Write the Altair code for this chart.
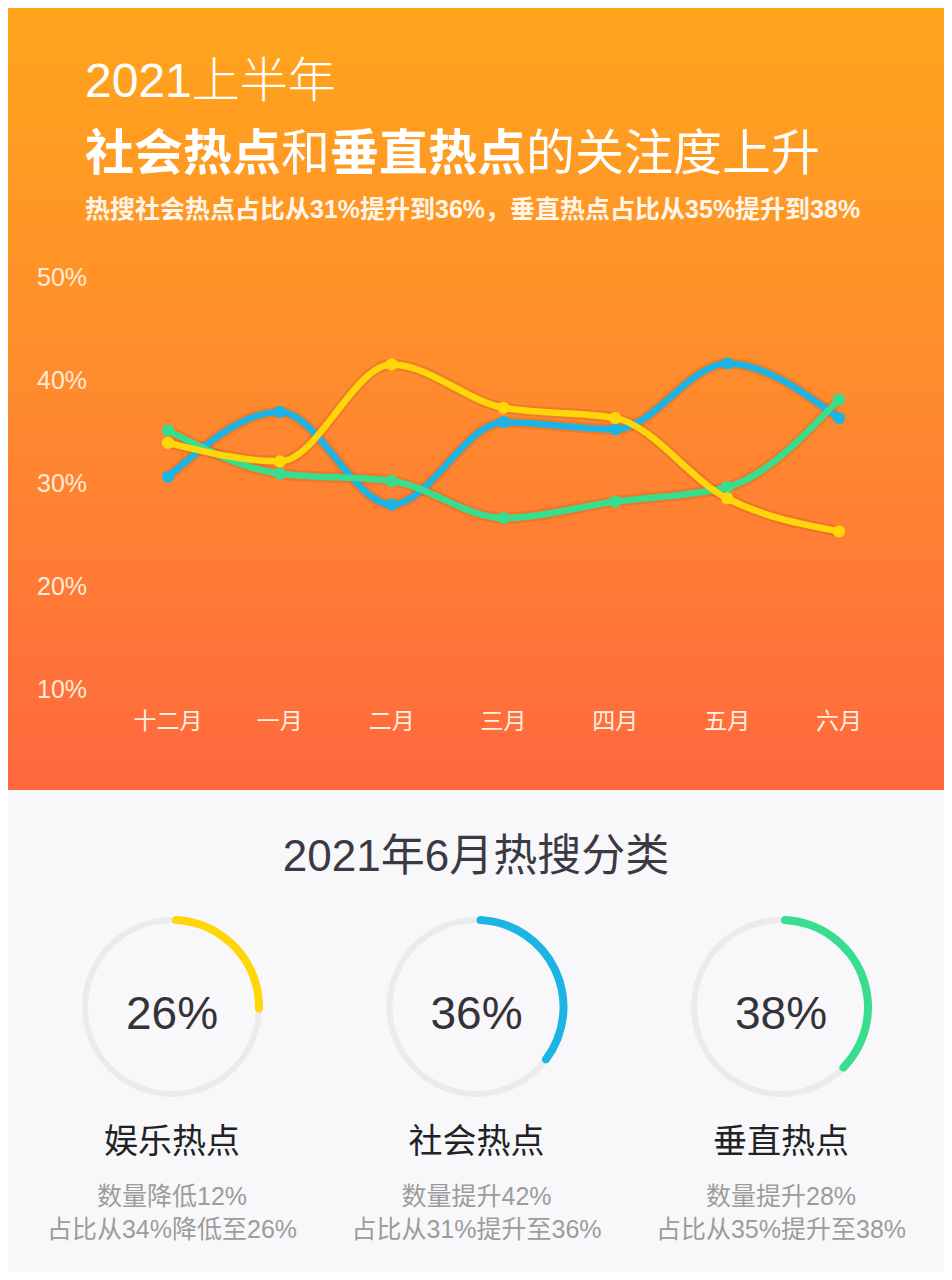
import math
import altair as alt
import pandas as pd

# ---------------- data ----------------
months = ["十二月", "一月", "二月", "三月", "四月", "五月", "六月"]
social = [30.7, 37.0, 28.0, 36.0, 35.3, 41.7, 36.4]
entertainment = [34.0, 32.2, 41.6, 37.4, 36.4, 28.6, 25.4]
vertical = [35.2, 31.0, 30.3, 26.7, 28.3, 29.7, 38.2]
series_names = ["社会热点", "垂直热点", "娱乐热点"]
series_colors = ["#1CB4E4", "#38DE8E", "#FFD60A"]
y_ticks = [10, 20, 30, 40, 50]

ring_names = ["娱乐热点", "社会热点", "垂直热点"]
ring_pct = [26, 36, 38]
ring_line1 = ["数量降低12%", "数量提升42%", "数量提升28%"]
ring_line2 = ["占比从34%降低至26%", "占比从31%提升至36%", "占比从35%提升至38%"]

title_top = "2021上半年"
title_parts = ["社会热点", "和", "垂直热点", "的关注度上升"]
title_bold = [True, False, True, False]
subtitle = "热搜社会热点占比从31%提升到36%，垂直热点占比从35%提升到38%"
section_title = "2021年6月热搜分类"

# ---------------- tables ----------------
rows = []
for name, vals in zip(["社会热点", "垂直热点", "娱乐热点"], [social, vertical, entertainment]):
    for i, (m, v) in enumerate(zip(months, vals)):
        rows.append({"month": m, "value": v, "series": name, "idx": i})
line_df = pd.DataFrame(rows)
ring_df = pd.DataFrame({"series": ring_names, "pct": ring_pct,
                        "l1": ring_line1, "l2": ring_line2})

FONT = "Liberation Sans, Noto Sans CJK SC"
W, H = 936, 1264

xm = alt.X("month:N", scale=alt.Scale(type="point", domain=months, range=[160, 831], padding=0), axis=None)
ys = alt.Scale(domain=[10, 50], range=[682, 270])
yv = alt.Y("value:Q", scale=ys, axis=None)
col = alt.Color("series:N", scale=alt.Scale(domain=series_names, range=series_colors), legend=None)
xr = alt.X("series:N", scale=alt.Scale(type="point", domain=ring_names, range=[164, 773], padding=0), axis=None)
th = alt.Scale(domain=[0, 100], range=[0, 2 * math.pi])

one = alt.Data(values=[{"a": 1}])

# background gradient
bg = alt.Chart(one).mark_rect(
    fill=alt.LinearGradient(
        gradient="linear", x1=0, x2=0, y1=0, y2=1,
        stops=[alt.GradientStop(offset=0, color="#FFA51B"),
               alt.GradientStop(offset=0.5, color="#FF8A2E"),
               alt.GradientStop(offset=1, color="#FF683E")])
).encode(x=alt.value(0), x2=alt.value(W), y=alt.value(0), y2=alt.value(782))

# titles
t1 = alt.Chart(one).mark_text(align="left", baseline="middle", fontSize=48, color="#FFFFFF",
                              font=FONT, fontWeight=300).encode(
    x=alt.value(77), y=alt.value(75), text=alt.value(title_top))

title_layers = []
xpos = 77
for part, bold in zip(title_parts, title_bold):
    title_layers.append(
        alt.Chart(one).mark_text(align="left", baseline="middle", fontSize=49, color="#FFFFFF",
                                 font=FONT, fontWeight="bold" if bold else "normal").encode(
            x=alt.value(xpos), y=alt.value(147), text=alt.value(part)))
    xpos += 49 * len(part)

sub = alt.Chart(one).mark_text(align="left", baseline="middle", fontSize=25, color="#FFF6EA",
                               font=FONT, fontWeight="bold").encode(
    x=alt.value(77), y=alt.value(202), text=alt.value(subtitle))

# axis labels
ylab = alt.Chart(pd.DataFrame({"value": y_ticks})).transform_calculate(
    lab="datum.value + '%'").mark_text(align="left", baseline="middle", fontSize=25,
                                       color="#FFEBD6", font=FONT).encode(
    x=alt.value(29), y=yv, text="lab:N")

xlab = alt.Chart(pd.DataFrame({"month": months})).mark_text(
    baseline="middle", fontSize=23, color="#FFF1E2", font=FONT).encode(
    x=xm, y=alt.value(714), text="month:N")

# lines
halo = alt.Chart(line_df).mark_line(interpolate="monotone", strokeWidth=11, opacity=0.18,
                                    color="#A04010").encode(
    x=xm, y=yv, detail="series:N", order="idx:Q")
lines = alt.Chart(line_df).mark_line(interpolate="monotone", strokeWidth=6.5, strokeCap="round").encode(
    x=xm, y=yv, color=col, order="idx:Q")
pts = alt.Chart(line_df).mark_circle(size=150, opacity=1).encode(x=xm, y=yv, color=col)

# ring section
sec = alt.Chart(one).mark_text(baseline="middle", fontSize=44, color="#3A3A44", font=FONT).encode(
    x=alt.value(468), y=alt.value(850), text=alt.value(section_title))

ring_bg = alt.Chart(ring_df).transform_calculate(zero="0", full="100").mark_arc(
    innerRadius=84, outerRadius=90, color="#EBEBEE").encode(
    x=xr, y=alt.value(999),
    theta=alt.Theta("zero:Q", scale=th), theta2="full:Q")
ring_fg = alt.Chart(ring_df).transform_calculate(zero="0").mark_arc(
    innerRadius=83, outerRadius=91, cornerRadius=4).encode(
    x=xr, y=alt.value(999), color=col,
    theta=alt.Theta("zero:Q", scale=th), theta2="pct:Q")
pct_txt = alt.Chart(ring_df).transform_calculate(lab="datum.pct + '%'").mark_text(
    baseline="middle", fontSize=46, color="#333338", font=FONT).encode(
    x=xr, y=alt.value(1007), text="lab:N")
name_txt = alt.Chart(ring_df).mark_text(baseline="middle", fontSize=34, color="#222226",
                                        font=FONT).encode(
    x=xr, y=alt.value(1135), text="series:N")
l1_txt = alt.Chart(ring_df).mark_text(baseline="middle", fontSize=25, color="#9C9C9C",
                                      font=FONT).encode(
    x=xr, y=alt.value(1189), text="l1:N")
l2_txt = alt.Chart(ring_df).mark_text(baseline="middle", fontSize=25, color="#9C9C9C",
                                      font=FONT).encode(
    x=xr, y=alt.value(1222), text="l2:N")

chart = alt.layer(
    bg, t1, *title_layers, sub, ylab, xlab, halo, lines, pts,
    sec, ring_bg, ring_fg, pct_txt, name_txt, l1_txt, l2_txt
).resolve_scale(x="independent").properties(
    width=W, height=H, padding=0, autosize=alt.AutoSizeParams(type="none"),
    background="#F8F8FA"
).configure_view(strokeWidth=0)

chart.save("out.html", embed_options={"renderer": "svg", "actions": False})
